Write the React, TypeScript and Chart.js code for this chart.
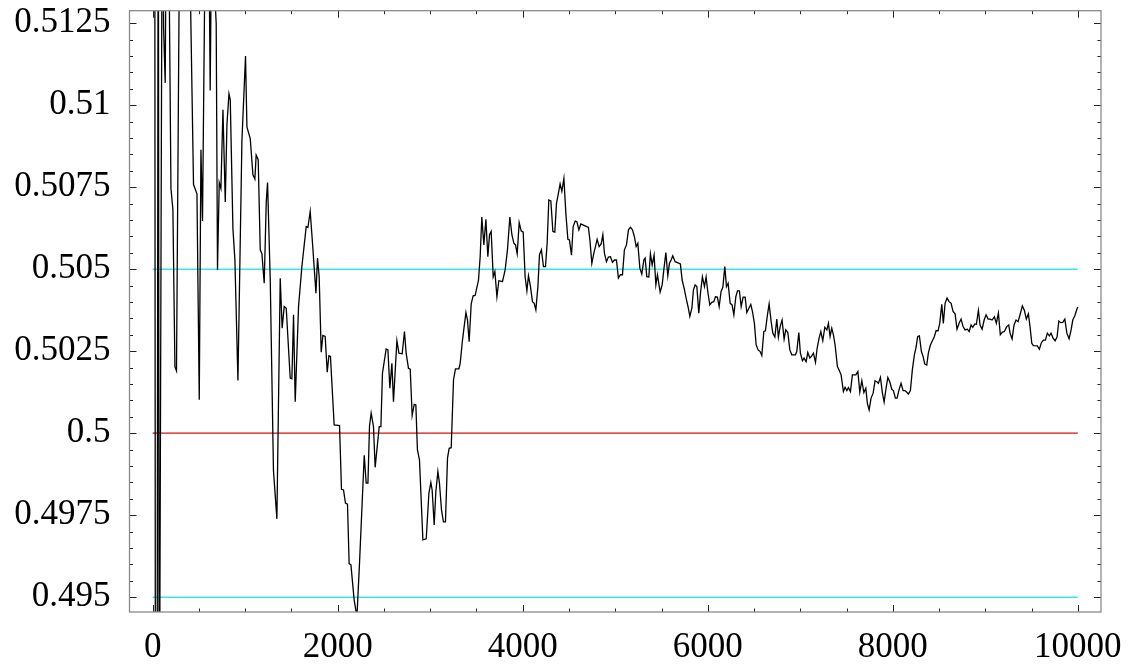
import React, { useEffect, useRef } from "react";
import { Chart, registerables } from "chart.js";

Chart.register(...registerables);

// number of tosses (x) and running proportion of heads (y)
const flips = [
  20, 35, 46, 61, 71, 90, 107, 118, 136, 147, 172, 198, 219, 241, 258, 298, 370, 442, 479, 504,
  522, 539, 568, 610, 622, 635, 660, 687, 701, 720, 738, 760, 785, 803, 825, 839, 868, 889, 922, 965,
  1004, 1019, 1055, 1084, 1105, 1119, 1141, 1163, 1181, 1206, 1228, 1242, 1271, 1306, 1343, 1379, 1400, 1422, 1444, 1487,
  1505, 1523, 1541, 1577, 1613, 1660, 1678, 1703, 1728, 1765, 1782, 1800, 1822, 1840, 1865, 1887, 1905, 1922, 1962, 2020,
  2041, 2063, 2084, 2106, 2124, 2143, 2178, 2208, 2236, 2287, 2308, 2327, 2344, 2362, 2387, 2405, 2449, 2467, 2484, 2524,
  2543, 2564, 2586, 2603, 2640, 2662, 2697, 2722, 2740, 2765, 2784, 2805, 2827, 2845, 2862, 2884, 2921, 2957, 2986, 3007,
  3021, 3043, 3061, 3083, 3100, 3122, 3143, 3165, 3187, 3205, 3227, 3252, 3273, 3310, 3324, 3349, 3386, 3403, 3421, 3443,
  3464, 3486, 3522, 3540, 3558, 3580, 3602, 3623, 3641, 3659, 3681, 3699, 3721, 3742, 3759, 3781, 3810, 3835, 3861, 3883,
  3904, 3922, 3940, 3962, 3983, 4005, 4026, 4045, 4062, 4084, 4105, 4124, 4142, 4164, 4181, 4202, 4224, 4246, 4264, 4282,
  4304, 4326, 4347, 4365, 4386, 4404, 4423, 4445, 4466, 4488, 4505, 4527, 4545, 4567, 4585, 4607, 4628, 4667, 4710, 4726,
  4747, 4769, 4786, 4804, 4826, 4848, 4866, 4883, 4905, 4926, 4948, 4970, 4991, 5013, 5034, 5056, 5078, 5099, 5121, 5143,
  5164, 5186, 5207, 5226, 5244, 5266, 5287, 5309, 5323, 5341, 5363, 5380, 5399, 5420, 5439, 5456, 5485, 5507, 5525, 5547,
  5568, 5586, 5604, 5622, 5647, 5672, 5704, 5723, 5744, 5766, 5788, 5806, 5828, 5845, 5863, 5882, 5903, 5921, 5942, 5964,
  5982, 6000, 6022, 6043, 6065, 6083, 6104, 6123, 6144, 6163, 6184, 6202, 6220, 6242, 6263, 6282, 6303, 6321, 6342, 6361,
  6382, 6404, 6422, 6444, 6465, 6483, 6504, 6523, 6544, 6566, 6584, 6606, 6623, 6645, 6663, 6685, 6703, 6725, 6746, 6763,
  6782, 6803, 6825, 6843, 6865, 6887, 6908, 6947, 6962, 6984, 7001, 7023, 7041, 7063, 7081, 7103, 7124, 7142, 7164, 7182,
  7203, 7222, 7243, 7265, 7287, 7304, 7322, 7340, 7358, 7376, 7401, 7419, 7441, 7466, 7484, 7503, 7520, 7542, 7563, 7600,
  7622, 7643, 7665, 7687, 7708, 7725, 7744, 7765, 7787, 7808, 7827, 7844, 7866, 7887, 7906, 7927, 7946, 7967, 7989, 8006,
  8028, 8046, 8067, 8089, 8111, 8132, 8151, 8168, 8190, 8211, 8233, 8251, 8269, 8287, 8309, 8327, 8345, 8367, 8384, 8406,
  8428, 8449, 8468, 8489, 8507, 8529, 8546, 8565, 8586, 8608, 8630, 8651, 8673, 8694, 8716, 8738, 8759, 8781, 8806, 8825,
  8846, 8864, 8886, 8903, 8925, 8943, 8965, 8987, 9008, 9030, 9051, 9073, 9098, 9119, 9141, 9162, 9184, 9206, 9231, 9253,
  9267, 9289, 9310, 9332, 9354, 9375, 9400, 9422, 9443, 9465, 9483, 9502, 9519, 9562, 9584, 9606, 9627, 9649, 9670, 9692,
  9710, 9732, 9754, 9775, 9794, 9815, 9837, 9859, 9881, 9905, 9927, 9945, 9967, 9989, 10000,
];

const ratio = [
  0.53, 0.47, 0.485, 0.52, 0.488, 0.50495, 0.52, 0.51238, 0.51068, 0.516, 0.516, 0.50746, 0.50682, 0.50202, 0.5019, 0.518, 0.52, 0.50758, 0.5073, 0.50102,
  0.50864, 0.50647, 0.515, 0.5145, 0.51045, 0.5145, 0.514, 0.5125, 0.50498, 0.50764, 0.50746, 0.50986, 0.50705, 0.5094, 0.51035, 0.51016, 0.50623, 0.5053, 0.50161, 0.50892,
  0.5115, 0.50934, 0.50898, 0.50788, 0.50775, 0.50848, 0.50834, 0.50559, 0.50547, 0.50457, 0.50705, 0.50764, 0.50471, 0.49886, 0.49739, 0.50472, 0.5032, 0.50386, 0.50381, 0.50168,
  0.50166, 0.50361, 0.50096, 0.50386, 0.50508, 0.5063, 0.50627, 0.50676, 0.50579, 0.50427, 0.50534, 0.50477, 0.50247, 0.50298, 0.50295, 0.50186, 0.50236, 0.50234, 0.50025, 0.50023,
  0.49829, 0.49827, 0.49787, 0.49784, 0.49602, 0.49599, 0.49492, 0.4944, 0.49604, 0.49933, 0.49848, 0.49848, 0.50022, 0.50061, 0.5002, 0.49896, 0.5002, 0.5002, 0.50183, 0.50257,
  0.50254, 0.50137, 0.50213, 0.50096, 0.50282, 0.50244, 0.50242, 0.5031, 0.50244, 0.50198, 0.50195, 0.50054, 0.50088, 0.50086, 0.49949, 0.49919, 0.49675, 0.49678, 0.49817, 0.4985,
  0.49827, 0.4972, 0.49822, 0.49883, 0.49848, 0.49766, 0.4973, 0.4973, 0.49924, 0.49954, 0.49956, 0.50163, 0.50196, 0.50196, 0.50213, 0.50284, 0.50368, 0.50345, 0.50279, 0.50394,
  0.50419, 0.5042, 0.50467, 0.50538, 0.50659, 0.50574, 0.50652, 0.50538, 0.50605, 0.50615, 0.50477, 0.50493, 0.50416, 0.50465, 0.50464, 0.50462, 0.50498, 0.50559, 0.50659, 0.50605,
  0.50579, 0.50574, 0.50547, 0.50642, 0.50617, 0.50613, 0.50477, 0.50434, 0.5048, 0.50447, 0.50401, 0.50396, 0.50376, 0.50447, 0.50544, 0.50559, 0.50508, 0.50508, 0.50579, 0.50711,
  0.50708, 0.50615, 0.50613, 0.50701, 0.50732, 0.5076, 0.50737, 0.50777, 0.50671, 0.50591, 0.50589, 0.50543, 0.5063, 0.50647, 0.50645, 0.5062, 0.50638, 0.50633, 0.50627, 0.50589,
  0.50518, 0.50549, 0.50569, 0.50591, 0.50569, 0.50577, 0.50605, 0.50549, 0.50523, 0.50537, 0.50538, 0.50521, 0.50528, 0.50528, 0.50473, 0.50483, 0.50483, 0.50559, 0.50574, 0.5062,
  0.50628, 0.5062, 0.50599, 0.50569, 0.50579, 0.50503, 0.50485, 0.50528, 0.50534, 0.50477, 0.50476, 0.50547, 0.50513, 0.50543, 0.50452, 0.50483, 0.5043, 0.50452, 0.50498, 0.50551,
  0.5048, 0.50518, 0.50528, 0.50541, 0.50523, 0.5052, 0.50516, 0.50467, 0.50442, 0.50412, 0.50384, 0.50356, 0.50381, 0.50437, 0.50452, 0.50447, 0.50366, 0.50427, 0.50477, 0.50447,
  0.50476, 0.50432, 0.50391, 0.50399, 0.50401, 0.50416, 0.50415, 0.50386, 0.50432, 0.50445, 0.50508, 0.50447, 0.50457, 0.50396, 0.50391, 0.50361, 0.50416, 0.50434, 0.50434, 0.50386,
  0.50415, 0.50415, 0.50368, 0.50381, 0.50393, 0.50371, 0.50335, 0.50269, 0.50254, 0.50249, 0.50237, 0.5031, 0.50312, 0.50361, 0.50394, 0.5034, 0.50305, 0.50293, 0.50348, 0.50293,
  0.50325, 0.50345, 0.50287, 0.50315, 0.50307, 0.50254, 0.50239, 0.50239, 0.50249, 0.50307, 0.50244, 0.50221, 0.50229, 0.50218, 0.50246, 0.50229, 0.50236, 0.50244, 0.50216, 0.50259,
  0.5029, 0.5031, 0.50282, 0.50323, 0.50315, 0.50335, 0.50295, 0.5032, 0.503, 0.50269, 0.50203, 0.50193, 0.50178, 0.50127, 0.5014, 0.5013, 0.50139, 0.50127, 0.50178, 0.50178,
  0.50188, 0.50125, 0.5016, 0.50124, 0.50137, 0.50091, 0.50071, 0.50107, 0.50122, 0.5016, 0.50157, 0.50152, 0.5017, 0.50124, 0.50095, 0.50137, 0.5017, 0.50157, 0.50134, 0.5013,
  0.50107, 0.50107, 0.50132, 0.50152, 0.5013, 0.5013, 0.50125, 0.50119, 0.5013, 0.50193, 0.50239, 0.50262, 0.50295, 0.50297, 0.50249, 0.50234, 0.50211, 0.50208, 0.50244, 0.50269,
  0.50282, 0.50295, 0.50313, 0.50312, 0.50335, 0.50393, 0.50335, 0.50396, 0.50412, 0.50401, 0.50396, 0.50371, 0.50364, 0.50317, 0.50335, 0.50348, 0.50325, 0.50315, 0.50317, 0.5031,
  0.5033, 0.50323, 0.50333, 0.50332, 0.50374, 0.5033, 0.50317, 0.50345, 0.50361, 0.50348, 0.50348, 0.50345, 0.50355, 0.50335, 0.50366, 0.503, 0.50308, 0.5031, 0.50325, 0.5033,
  0.50305, 0.50287, 0.5033, 0.50345, 0.5034, 0.50361, 0.50388, 0.50374, 0.50348, 0.50364, 0.50325, 0.50274, 0.50267, 0.50266, 0.50256, 0.50276, 0.50284, 0.50284, 0.50305, 0.50297,
  0.50305, 0.5029, 0.50282, 0.50293, 0.50342, 0.50337, 0.50338, 0.50348, 0.50305, 0.50288, 0.50315, 0.50345, 0.50358, 0.50378, 0.50385,
];

const xTickValues = [0, 2000, 4000, 6000, 8000, 10000];
const xTickLabels = ["0", "2000", "4000", "6000", "8000", "10000"];
const xMinorTicks = [0, 500, 1000, 1500, 2000, 2500, 3000, 3500, 4000, 4500, 5000, 5500, 6000, 6500, 7000, 7500, 8000, 8500, 9000, 9500, 10000];
const yTickValues = [0.495, 0.4975, 0.5, 0.5025, 0.505, 0.5075, 0.51, 0.5125];
const yTickLabels = ["0.495", "0.4975", "0.5", "0.5025", "0.505", "0.5075", "0.51", "0.5125"];
const yMinorTicks = [
  0.495, 0.4955, 0.496, 0.4965, 0.497, 0.4975, 0.498, 0.4985, 0.499, 0.4995, 0.5, 0.5005, 0.501, 0.5015, 0.502,
  0.5025, 0.503, 0.5035, 0.504, 0.5045, 0.505, 0.5055, 0.506, 0.5065, 0.507, 0.5075, 0.508, 0.5085, 0.509, 0.5095,
  0.51, 0.5105, 0.511, 0.5115, 0.512, 0.5125,
];
const refSpan = [0, 10000];
const centerLevel = 0.5;
const upperLevel = 0.505;
const lowerLevel = 0.495;
const xLimits = [-250, 10250];
const yLimits = [0.49455, 0.51288];

const near = (a: number, b: number) => Math.abs(a - b) < 1e-9;

const framePlugin = {
  id: "mmaFrame",
  afterDatasetsDraw(chart: any) {
    const { ctx, chartArea: a, scales } = chart;
    const xs = scales.x;
    const ys = scales.y;
    ctx.save();
    ctx.strokeStyle = "#222";
    ctx.lineWidth = 1;
    ctx.beginPath();
    xMinorTicks.forEach((v) => {
      const px = Math.round(xs.getPixelForValue(v)) + 0.5;
      const major = xTickValues.some((t) => near(t, v));
      const len = major ? 7 : 3.5;
      ctx.moveTo(px, a.bottom);
      ctx.lineTo(px, a.bottom - len);
      ctx.moveTo(px, a.top);
      ctx.lineTo(px, a.top + len);
    });
    yMinorTicks.forEach((v) => {
      const py = Math.round(ys.getPixelForValue(v)) + 0.5;
      const major = yTickValues.some((t) => near(t, v));
      const len = major ? 7 : 3.5;
      ctx.moveTo(a.left, py);
      ctx.lineTo(a.left + len, py);
      ctx.moveTo(a.right, py);
      ctx.lineTo(a.right - len, py);
    });
    ctx.stroke();
    ctx.strokeStyle = "#8a8a8a";
    ctx.lineWidth = 1.3;
    ctx.strokeRect(a.left, a.top, a.right - a.left, a.bottom - a.top);
    ctx.restore();
  },
};

export default function App() {
  const ref = useRef<HTMLCanvasElement | null>(null);

  useEffect(() => {
    if (!ref.current) return;
    const font = { family: "'Liberation Serif', 'DejaVu Serif', serif", size: 35 };
    const chart = new Chart(ref.current, {
      type: "line",
      data: {
        datasets: [
          {
            label: "ratio",
            data: flips.map((f, i) => ({ x: f, y: ratio[i] })),
            borderColor: "#000000",
            borderWidth: 1.3,
            pointRadius: 0,
            tension: 0,
            clip: 0,
            order: 0,
          },
          {
            label: "center",
            data: refSpan.map((v) => ({ x: v, y: centerLevel })),
            borderColor: "#ff0000",
            borderWidth: 1.2,
            pointRadius: 0,
            clip: 0,
            order: 1,
          },
          {
            label: "upper",
            data: refSpan.map((v) => ({ x: v, y: upperLevel })),
            borderColor: "#00ffff",
            borderWidth: 1.5,
            pointRadius: 0,
            clip: 0,
            order: 1,
          },
          {
            label: "lower",
            data: refSpan.map((v) => ({ x: v, y: lowerLevel })),
            borderColor: "#00ffff",
            borderWidth: 1.5,
            pointRadius: 0,
            clip: 0,
            order: 1,
          },
        ],
      } as any,
      options: {
        animation: false,
        responsive: false,
        devicePixelRatio: 1,
        events: [],
        layout: { padding: { top: 10.7, right: 33, left: 0, bottom: 0 } },
        plugins: { legend: { display: false }, tooltip: { enabled: false } },
        scales: {
          x: {
            type: "linear",
            min: xLimits[0],
            max: xLimits[1],
            grid: { display: false, drawTicks: false },
            border: { display: false },
            afterBuildTicks: (s: any) => {
              s.ticks = xTickValues.map((v) => ({ value: v }));
            },
            afterFit: (s: any) => {
              s.height = 54;
              s.paddingLeft = 0;
              s.paddingRight = 0;
            },
            ticks: {
              font,
              color: "#000",
              padding: 15,
              maxRotation: 0,
              minRotation: 0,
              autoSkip: false,
              callback: (v: any) => {
                const i = xTickValues.findIndex((t) => near(t, Number(v)));
                return i >= 0 ? xTickLabels[i] : "";
              },
            },
          },
          y: {
            type: "linear",
            min: yLimits[0],
            max: yLimits[1],
            grid: { display: false, drawTicks: false },
            border: { display: false },
            afterBuildTicks: (s: any) => {
              s.ticks = yTickValues.map((v) => ({ value: v }));
            },
            afterFit: (s: any) => {
              s.width = 129.5;
              s.paddingTop = 0;
              s.paddingBottom = 0;
            },
            ticks: {
              font,
              color: "#000",
              padding: 19,
              autoSkip: false,
              callback: (v: any) => {
                const i = yTickValues.findIndex((t) => near(t, Number(v)));
                return i >= 0 ? yTickLabels[i] : "";
              },
            },
          },
        },
      } as any,
      plugins: [framePlugin],
    });
    return () => chart.destroy();
  }, []);

  return (
    <div style={{ position: "absolute", left: 0, top: 0, width: 1134, height: 666, background: "#fff" }}>
      <canvas ref={ref} width={1134} height={666} style={{ display: "block" }} />
    </div>
  );
}
